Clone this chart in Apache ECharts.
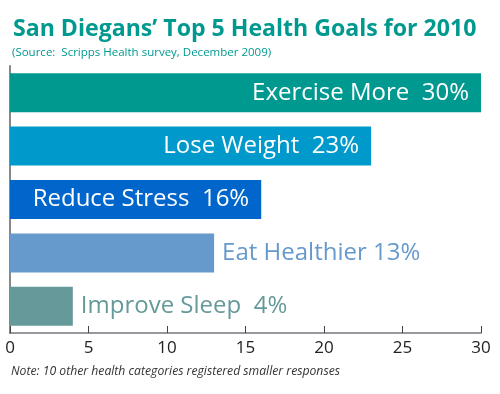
<!DOCTYPE html>
<html><head><meta charset="utf-8">
<script src="https://cdn.jsdelivr.net/npm/echarts@6/dist/echarts.min.js"></script>
<style>html,body{margin:0;padding:0;background:#fff}#c{width:500px;height:394px}</style>
</head><body><div id="c"></div>
<script>
const categories = ["Exercise More", "Lose Weight", "Reduce Stress", "Eat Healthier", "Improve Sleep"];
const values = [30, 23, 16, 13, 4];
const barLabels = ["Exercise More  30%", "Lose Weight  23%", "Reduce Stress  16%", "Eat Healthier 13%", "Improve Sleep  4%"];
const colors = ["#009990", "#0099cc", "#0066cc", "#6699cc", "#669999"];
const insideFlags = [true, true, true, false, false];
const xTicks = [0, 5, 10, 15, 20, 25, 30];

const FONT = "'Open Sans', 'Noto Sans', sans-serif";
const chart = echarts.init(document.getElementById('c'));
chart.setOption({
  animation: false,
  title: [{
    text: "San Diegans\u2019 Top 5 Health Goals for 2010",
    left: 8, top: 13,
    textStyle: { color: "#009990", fontSize: 23.1, fontWeight: "bold", fontFamily: FONT }
  }, {
    text: "(Source:  Scripps Health survey, December 2009)",
    left: 7, top: 42,
    textStyle: { color: "#009990", fontSize: 11.5, fontWeight: "normal", fontFamily: FONT }
  }, {
    text: "Note: 10 other health categories registered smaller responses",
    left: 6, top: 361,
    textStyle: { color: "#333", fontSize: 12.2, fontStyle: "italic", fontWeight: "normal", fontFamily: FONT }
  }],
  grid: { left: 10, right: 19, top: 66, bottom: 61, containLabel: false },
  xAxis: {
    type: "value", min: 0, max: 30, interval: 5,
    axisLine: { show: true, lineStyle: { color: "#77777f", width: 1.5 } },
    axisTick: { show: true, inside: true, length: 7, lineStyle: { color: "#444" } },
    splitLine: { show: false },
    axisLabel: { color: "#222", fontSize: 17, fontFamily: FONT, margin: 7,
      formatter: v => xTicks.includes(v) ? String(v) : "" }
  },
  yAxis: {
    type: "category", data: categories, inverse: true,
    axisLine: { show: true, lineStyle: { color: "#888", width: 2 } },
    axisTick: { show: true, inside: true, alignWithLabel: true, length: 11, lineStyle: { color: "#444" } },
    axisLabel: { show: false }
  },
  series: [{
    type: "bar",
    barWidth: 39,
    data: values.map((v, i) => ({
      value: v,
      itemStyle: { color: colors[i] },
      label: {
        show: true,
        position: insideFlags[i] ? "insideRight" : "right",
        distance: insideFlags[i] ? 12 : 8,
        color: insideFlags[i] ? "#fff" : colors[i],
        fontSize: 24, fontFamily: FONT,
        formatter: () => barLabels[i]
      }
    }))
  }]
});
</script></body></html>
